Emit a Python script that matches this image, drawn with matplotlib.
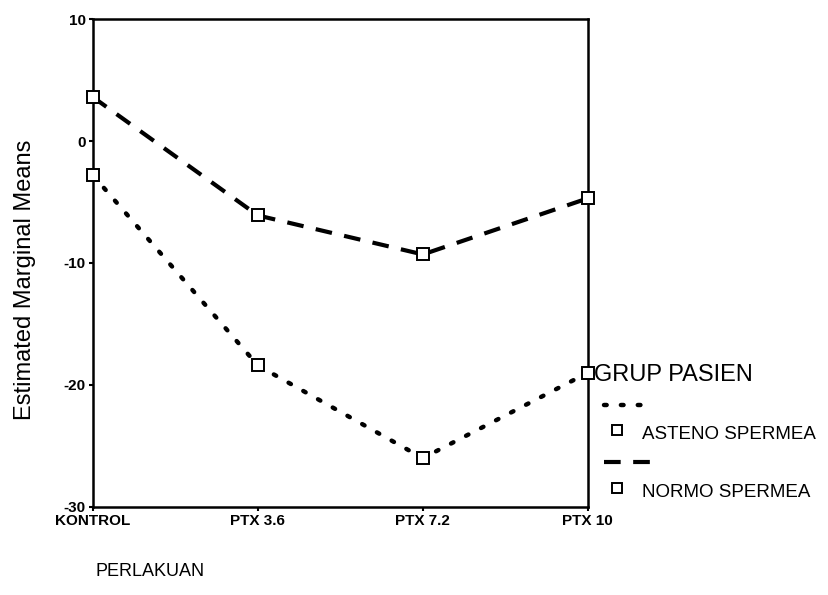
import matplotlib
matplotlib.use('Agg')
import matplotlib.pyplot as plt
from matplotlib.lines import Line2D

# Data
perlakuan = ['KONTROL', 'PTX 3.6', 'PTX 7.2', 'PTX 10']
asteno = [-2.8, -18.4, -26.0, -19.0]
normo = [3.6, -6.1, -9.3, -4.7]
groups = ['ASTENO SPERMEA', 'NORMO SPERMEA']
y_ticks = [10, 0, -10, -20, -30]

plt.rcParams['font.family'] = ['Liberation Sans', 'DejaVu Sans']

fig = plt.figure(figsize=(8.29, 5.95), dpi=100)
ax = fig.add_axes([0.112, 0.148, 0.597, 0.820])

x = list(range(len(perlakuan)))
dot_style = dict(linestyle=(0, (0.6, 3.2)), dash_capstyle='round', linewidth=3.2, color='black')
dash_style = dict(linestyle=(0, (4, 3)), linewidth=3.0, color='black')
mk = dict(marker='s', markersize=8, markerfacecolor='white', markeredgecolor='black',
          markeredgewidth=1.4)

ax.plot(x, asteno, **dot_style)
ax.plot(x, normo, **dash_style)
ax.plot(x, asteno, linestyle='none', clip_on=False, zorder=5, **mk)
ax.plot(x, normo, linestyle='none', clip_on=False, zorder=5, **mk)

ax.set_xlim(0, len(perlakuan) - 1)
ax.set_ylim(-30, 10)
ax.set_xticks(x)
ax.set_xticklabels(perlakuan, fontsize=11, fontweight='bold')
ax.set_yticks(y_ticks)
ax.set_yticklabels([str(v) for v in y_ticks], fontsize=11, fontweight='bold')
ax.tick_params(direction='out', length=3, width=1.5, pad=2)
for s in ax.spines.values():
    s.set_linewidth(1.8)

fig.text(0.03, 0.53, 'Estimated Marginal Means', rotation=90, fontsize=17,
         ha='center', va='center')
fig.text(0.115, 0.04, 'PERLAKUAN', fontsize=13, ha='left', va='center')

# legend drawn SPSS style, outside to the right
fig.text(0.716, 0.37, 'GRUP PASIEN', fontsize=17, ha='left', va='center')
styles = [dot_style, dash_style]
for i, name in enumerate(groups):
    y0 = 0.32 - i * 0.097
    fig.add_artist(Line2D([0.728, 0.785], [y0, y0], transform=fig.transFigure, **styles[i]))
    fig.add_artist(Line2D([0.744], [y0 - 0.043], transform=fig.transFigure,
                          linestyle='none', **dict(mk, markersize=7)))
    fig.text(0.774, y0 - 0.05, name, fontsize=13.5, ha='left', va='center')

fig.savefig('out.png', dpi=100)
